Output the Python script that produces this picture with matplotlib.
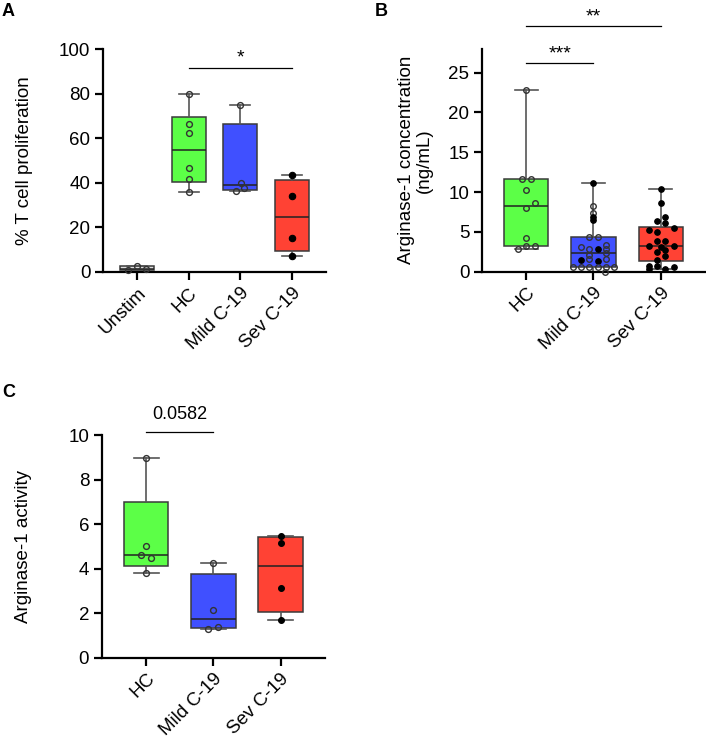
import numpy as np
import matplotlib
matplotlib.use("Agg")
import matplotlib.pyplot as plt

plt.rcParams['font.family'] = ['Liberation Sans', 'DejaVu Sans']

# ---------------- data ----------------
# Panel A: % T cell proliferation
a_groups = ["Unstim", "HC", "Mild C-19", "Sev C-19"]
a_unstim = [1.0, 2.9, 1.3]
a_unstim_dx = [-0.17, 0.0, 0.17]
a_hc = [79.7, 66.2, 62.2, 46.8, 41.7, 36.0]
a_hc_dx = [0, 0, 0, 0, 0, 0]
a_mild = [74.9, 40.0, 36.3, 37.7]
a_mild_dx = [0, 0.01, -0.08, 0.08]
a_sev = [43.5, 34.2, 15.2, 7.2]
a_sev_dx = [0, 0, 0, 0]

# Panel B: Arginase-1 concentration (ng/mL)
b_groups = ["HC", "Mild C-19", "Sev C-19"]
b_hc = [22.8, 11.6, 11.6, 10.3, 8.6, 8.0, 4.2, 3.2, 3.2, 2.8]
b_hc_dx = [0, -0.06, 0.065, 0, 0.13, 0, 0, 0, 0.13, -0.125]
b_mild = [11.1, 8.2, 7.4, 6.9, 6.5, 4.35, 4.35, 3.35, 3.15, 2.9, 2.85, 2.85,
          2.3, 2.1, 1.55, 1.55, 1.47, 1.35, 0.55, 0.55, 0.55, 0.55, 0.55, 0.55, 0.0]
b_mild_dx = [0, 0, 0, 0, 0, -0.065, 0.06, 0.18, -0.19, -0.065, 0.06, 0.18,
             0.18, -0.065, -0.065, 0.18, -0.19, 0.06, -0.31, -0.19, -0.065, 0.06, 0.18, 0.31, 0.17]
b_mild_filled = [1, 0, 0, 1, 1, 0, 0, 0, 0, 0, 1, 0,
                 0, 0, 0, 0, 1, 1, 0, 0, 0, 0, 0, 0, 0]
b_sev = [10.4, 8.6, 6.9, 6.4, 6.1, 5.45, 5.3, 5.0, 3.8, 3.8, 3.25, 3.25, 3.1,
         2.7, 2.5, 2.0, 1.5, 0.7, 0.7, 0.55, 0.3, 0.3]
b_sev_dx = [0, 0, 0.065, -0.06, 0.065, 0.2, -0.18, -0.06, -0.06, 0.065, -0.18, 0.2, 0.0,
            0.065, -0.06, 0.065, -0.06, -0.18, -0.06, 0.2, -0.18, 0.065]

# Panel C: Arginase-1 activity
c_groups = ["HC", "Mild C-19", "Sev C-19"]
c_hc = [8.95, 5.0, 4.6, 4.46, 3.8]
c_hc_dx = [0, 0, -0.08, 0.08, 0]
c_mild = [4.27, 2.14, 1.38, 1.29]
c_mild_dx = [0, 0, 0.07, -0.08]
c_sev = [5.48, 5.15, 3.12, 1.69]
c_sev_dx = [0, 0, 0, 0]

GREEN = '#5CFF47'
BLUE = '#4050FF'
RED = '#FF4234'

# ---------------- helpers ----------------
def stats_of(d):
    d = np.asarray(d, float)
    q1, med, q3 = np.percentile(d, [25, 50, 75], method='weibull')
    return dict(med=med, q1=q1, q3=q3, whislo=d.min(), whishi=d.max(), fliers=[])


def draw_boxes(ax, datas, colors, capw):
    st = [stats_of(d) for d in datas]
    res = ax.bxp(st, positions=range(len(datas)), widths=0.66, patch_artist=True,
                 showfliers=False, capwidths=capw,
                 boxprops=dict(linewidth=1.1, edgecolor='#3a3a3a'),
                 medianprops=dict(color='#222222', linewidth=1.1),
                 whiskerprops=dict(color='#555555', linewidth=1.2),
                 capprops=dict(color='#555555', linewidth=1.2))
    for p, c in zip(res['boxes'], colors):
        p.set_facecolor(c)


def draw_points(ax, i, vals, dx, filled, ms=4.2):
    for v, o, f in zip(vals, dx, filled):
        if f:
            ax.plot(i + o, v, 'o', ms=ms, mfc='black', mec='black', mew=0.8, zorder=5, clip_on=False)
        else:
            ax.plot(i + o, v, 'o', ms=ms, mfc='none', mec='#333333', mew=1.0, zorder=5, clip_on=False)


def style_axes(ax, groups, ylim, yticks, ylabel, label_x, fs_tick=13.5, fs_lab=13.5):
    ax.set_xlim(-0.66, len(groups) - 1 + 0.66)
    ax.set_ylim(*ylim)
    ax.set_yticks(yticks)
    ax.set_xticks(range(len(groups)))
    ax.set_xticklabels(groups, rotation=45, ha='right', va='top', rotation_mode='anchor',
                       fontsize=fs_tick)
    ax.tick_params(axis='y', labelsize=fs_tick)
    for s in ['top', 'right']:
        ax.spines[s].set_visible(False)
    for s in ['left', 'bottom']:
        ax.spines[s].set_linewidth(1.6)
    ax.tick_params(direction='out', length=6, width=1.6, pad=3)
    ax.set_ylabel(ylabel, fontsize=fs_lab, linespacing=1.1)
    ax.yaxis.set_label_coords(label_x, 0.5)


def sig(ax, x1, x2, y, text, ty, fs=13):
    ax.plot([x1, x2], [y, y], color='black', lw=0.9, clip_on=False)
    ax.text((x1 + x2) / 2, ty, text, ha='center', va='center', fontsize=fs, clip_on=False)


fig = plt.figure(figsize=(7.06, 7.44), dpi=100)

# ---- Panel A ----
axA = fig.add_axes([103 / 706, 1 - 272 / 744, 223 / 706, 223 / 744])
draw_boxes(axA, [a_unstim, a_hc, a_mild, a_sev], ['#dddddd', GREEN, BLUE, RED], 0.39)
draw_points(axA, 0, a_unstim, a_unstim_dx, [0] * len(a_unstim))
draw_points(axA, 1, a_hc, a_hc_dx, [0] * len(a_hc))
draw_points(axA, 2, a_mild, a_mild_dx, [0] * len(a_mild))
draw_points(axA, 3, a_sev, a_sev_dx, [1] * len(a_sev), ms=4.6)
style_axes(axA, a_groups, (0, 100), [0, 20, 40, 60, 80, 100], '% T cell proliferation', -0.315)
sig(axA, 1, 3, 91.3, '*', 96.0, fs=14)

# ---- Panel B ----
axB = fig.add_axes([482 / 706, 1 - 271.7 / 744, 223 / 706, 222.9 / 744])
draw_boxes(axB, [b_hc, b_mild, b_sev], [GREEN, BLUE, RED], 0.34)
draw_points(axB, 0, b_hc, b_hc_dx, [0] * len(b_hc), ms=4)
draw_points(axB, 1, b_mild, b_mild_dx, b_mild_filled, ms=4)
draw_points(axB, 2, b_sev, b_sev_dx, [1] * len(b_sev), ms=4)
style_axes(axB, b_groups, (0, 28), [0, 5, 10, 15, 20, 25],
           'Arginase-1 concentration\n(ng/mL)', -0.22)
sig(axB, 0, 1, 26.2, '***', 27.4, fs=14)
sig(axB, 0, 2, 30.9, '**', 32.0, fs=14)

# ---- Panel C ----
axC = fig.add_axes([101.7 / 706, 1 - 657.7 / 744, 223.3 / 706, 222.7 / 744])
draw_boxes(axC, [c_hc, c_mild, c_sev], [GREEN, BLUE, RED], 0.37)
draw_points(axC, 0, c_hc, c_hc_dx, [0] * len(c_hc))
draw_points(axC, 1, c_mild, c_mild_dx, [0] * len(c_mild))
draw_points(axC, 2, c_sev, c_sev_dx, [1] * len(c_sev))
style_axes(axC, c_groups, (0, 10), [0, 2, 4, 6, 8, 10], 'Arginase-1 activity', -0.31)
sig(axC, 0, 1, 10.15, '0.0582', 10.9, fs=13)

# panel letters
fig.text(2 / 706, 1 - 3 / 744, 'A', fontsize=13, fontweight='bold', va='top', ha='left')
fig.text(375 / 706, 1 - 3 / 744, 'B', fontsize=13, fontweight='bold', va='top', ha='left')
fig.text(2 / 706, 1 - 384 / 744, 'C', fontsize=13, fontweight='bold', va='top', ha='left')

fig.savefig('out.png', dpi=100)
